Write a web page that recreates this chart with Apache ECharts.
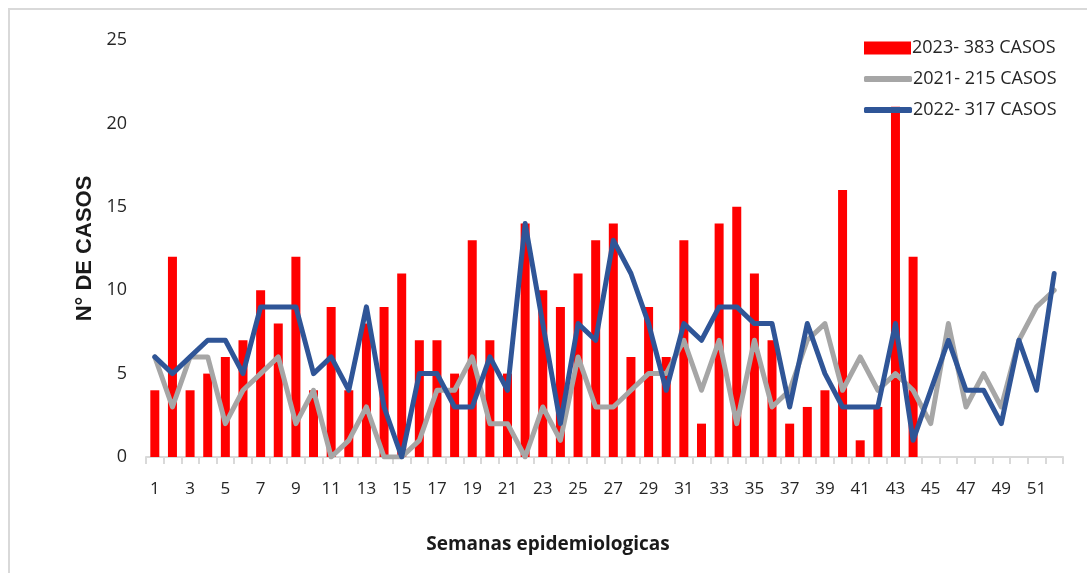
<!DOCTYPE html>
<html>
<head>
<meta charset="utf-8">
<script src="https://cdn.jsdelivr.net/npm/echarts@6/dist/echarts.min.js"></script>
<style>
html,body{margin:0;padding:0;background:#fff;}
#c{width:1087px;height:573px;}
</style>
</head>
<body>
<div id="c"></div>
<script>
const weeks = Array.from({length: 52}, (_, i) => String(i + 1));
const cases2023 = [4,12,4,5,6,7,10,8,12,4,9,4,8,9,11,7,7,5,13,7,5,14,10,9,11,13,14,6,9,6,13,2,14,15,11,7,2,3,4,16,1,3,21,12];
const cases2021 = [6,3,6,6,2,4,5,6,2,4,0,1,3,0,0,1,4,4,6,2,2,0,3,1,6,3,3,4,5,5,7,4,7,2,7,3,4,7,8,4,6,4,5,4,2,8,3,5,3,7,9,10];
const cases2022 = [6,5,6,7,7,5,9,9,9,5,6,4,9,3,0,5,5,3,3,6,4,14,8,2,8,7,13,11,8,4,8,7,9,9,8,8,3,8,5,3,3,3,8,1,4,7,4,4,2,7,4,11];
const seriesNames = ['2023- 383 CASOS', '2021- 215 CASOS', '2022- 317 CASOS'];
const yTicks = {min: 0, max: 25, interval: 5};

const legendText = {fontFamily: '"Open Sans", sans-serif', fontSize: 18, color: '#262626', padding: [0, 0, 0, -4]};

const chart = echarts.init(document.getElementById('c'), null, {renderer: 'canvas'});
chart.setOption({
  backgroundColor: '#fff',
  animation: false,
  graphic: [
    {type: 'rect', shape: {x: 9, y: 9, width: 1200, height: 700}, style: {fill: 'none', stroke: '#d9d9d9', lineWidth: 2}, silent: true},
    {type: 'text', x: 548, y: 545, style: {text: 'Semanas epidemiologicas', font: 'bold 19px "Open Sans", sans-serif', fill: '#1a1a1a', align: 'center', verticalAlign: 'middle'}}
  ],
  legend: [
    {
      orient: 'vertical',
      left: 859,
      top: 34,
      itemWidth: 47,
      itemHeight: 13,
      textStyle: legendText,
      data: [{name: seriesNames[0], icon: 'rect'}]
    },
    {
      orient: 'vertical',
      left: 859,
      top: 65,
      itemWidth: 48,
      itemHeight: 6,
      itemGap: 13,
      textStyle: legendText,
      data: [
        {name: seriesNames[1], icon: 'roundRect'},
        {name: seriesNames[2], icon: 'roundRect'}
      ]
    }
  ],
  grid: {left: 146, right: 24, top: 40, bottom: 116},
  xAxis: {
    type: 'category',
    data: weeks,
    boundaryGap: true,
    axisLine: {lineStyle: {color: '#d9d9d9', width: 2}},
    axisTick: {show: true, interval: 0, length: 7, lineStyle: {color: '#d9d9d9', width: 2}},
    axisLabel: {interval: 1, margin: 24, fontFamily: '"Open Sans", sans-serif', fontSize: 17, color: '#262626'}
  },
  yAxis: {
    type: 'value',
    min: yTicks.min,
    max: yTicks.max,
    interval: yTicks.interval,
    splitLine: {show: false},
    axisLine: {show: false},
    axisTick: {show: false},
    axisLabel: {margin: 19, fontFamily: '"Open Sans", sans-serif', fontSize: 18, color: '#262626'},
    name: 'N° DE CASOS',
    nameLocation: 'middle',
    nameGap: 44,
    nameRotate: 90,
    nameTextStyle: {fontFamily: '"Liberation Sans", Arial, sans-serif', fontWeight: 'bold', fontSize: 22, color: '#1a1a1a'}
  },
  series: [
    {
      name: seriesNames[0],
      type: 'bar',
      data: cases2023,
      barWidth: 9,
      itemStyle: {color: '#ff0000'},
      z: 1
    },
    {
      name: seriesNames[1],
      type: 'line',
      data: cases2021,
      symbol: 'none',
      lineStyle: {color: '#a6a6a6', width: 5, cap: 'round', join: 'round'},
      itemStyle: {color: '#a6a6a6'},
      z: 2
    },
    {
      name: seriesNames[2],
      type: 'line',
      data: cases2022,
      symbol: 'none',
      lineStyle: {color: '#2f5597', width: 5, cap: 'round', join: 'round'},
      itemStyle: {color: '#2f5597'},
      z: 3
    }
  ]
});
</script>
</body>
</html>
